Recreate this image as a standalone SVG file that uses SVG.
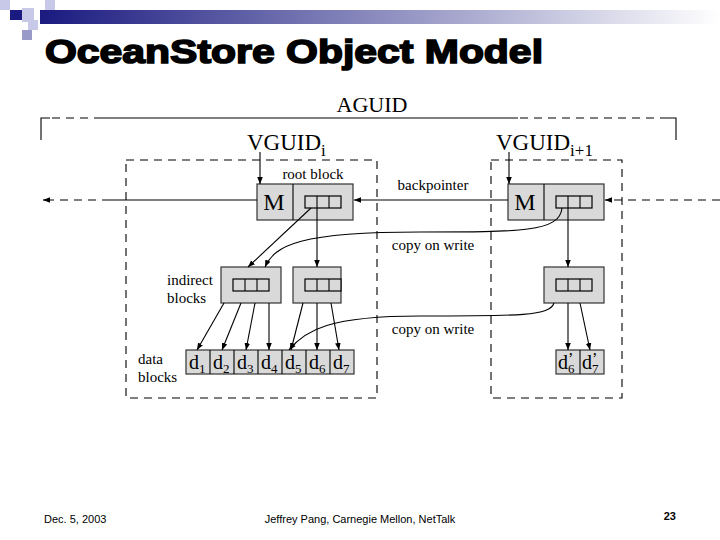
<svg xmlns="http://www.w3.org/2000/svg" width="720" height="540" viewBox="0 0 720 540">
<defs>
<linearGradient id="g" x1="0" x2="1"><stop offset="0" stop-color="#1a1a80"/><stop offset="1" stop-color="#ffffff"/></linearGradient>
<marker id="a" viewBox="0 0 10 10" refX="10" refY="5" markerWidth="7" markerHeight="7" orient="auto" markerUnits="userSpaceOnUse"><path d="M0,1 L10,5 L0,9 z" fill="#000"/></marker>
<style>
.t{font-family:"Liberation Serif",serif;fill:#000}
.blk{fill:#d9d9d9;stroke:#333;stroke-width:1.2}
.cell{fill:#d9d9d9;stroke:#000;stroke-width:1.2}
.ln{stroke:#000;stroke-width:1.1;fill:none}
.ds{stroke:#000;stroke-width:1.1;fill:none;stroke-dasharray:8,6}
</style>
</defs>
<rect width="720" height="540" fill="#fff"/>
<g id="header">
<rect x="40" y="10" width="680" height="14" fill="url(#g)"/>
<rect x="0" y="0" width="10" height="10" fill="#c8c8e8"/>
<rect x="10" y="10" width="12" height="10" fill="#1a1a80"/>
<rect x="22" y="8" width="12" height="14" fill="#c8c8e8"/>
<rect x="28" y="20" width="10" height="10" fill="#c8c8e8"/>
<rect x="22" y="30" width="10" height="10" fill="#9a9ac8"/>
<rect x="45" y="0" width="10" height="10" fill="#c8c8e8"/>
<text x="45" y="63" textLength="498" lengthAdjust="spacingAndGlyphs" style="font-family:'Liberation Sans',sans-serif;font-weight:900;font-size:33px;stroke:#000;stroke-width:1.6">OceanStore Object Model</text>
</g>
<g id="aguid">
<text class="t" x="372" y="112" font-size="22" text-anchor="middle">AGUID</text>
<path class="ln" d="M41,140 V118 H50 M95,118 H518 M666,118 H676 V140"/>
<path class="ds" d="M52,118 H95 M520,118 H666"/>
</g>
<g id="frames">
<rect class="ds" x="126" y="160" width="251" height="238"/>
<rect class="ds" x="491" y="160" width="131" height="238"/>
</g>
<g id="labels">
<text class="t" x="247" y="150" font-size="23">VGUID<tspan font-size="17" dy="6">i</tspan></text>
<text class="t" x="496" y="150" font-size="23">VGUID<tspan font-size="17" dy="6">i+1</tspan></text>
<text class="t" x="313" y="179" font-size="15" text-anchor="middle">root block</text>
<text class="t" x="433" y="190" font-size="15" text-anchor="middle">backpointer</text>
<text class="t" x="433" y="250" font-size="15" text-anchor="middle">copy on write</text>
<text class="t" x="433" y="334" font-size="15" text-anchor="middle">copy on write</text>
<text class="t" x="167" y="285" font-size="15">indirect</text>
<text class="t" x="167" y="303" font-size="15">blocks</text>
<text class="t" x="138" y="364" font-size="15">data</text>
<text class="t" x="138" y="382" font-size="15">blocks</text>
</g>
<g id="root-i">
<rect class="blk" x="257" y="184" width="96" height="36"/><line class="ln" x1="293" y1="184" x2="293" y2="220"/>
<text class="t" x="274" y="210" font-size="24" text-anchor="middle">M</text>
<rect class="cell" x="305" y="196" width="36" height="12"/><path class="ln" d="M317,196V208M329,196V208"/>
</g>
<g id="root-i1">
<rect class="blk" x="508" y="184" width="96" height="36"/><line class="ln" x1="544" y1="184" x2="544" y2="220"/>
<text class="t" x="525" y="210" font-size="24" text-anchor="middle">M</text>
<rect class="cell" x="556" y="196" width="36" height="12"/><path class="ln" d="M568,196V208M580,196V208"/>
</g>
<g id="ind-1">
<rect class="blk" x="221" y="267" width="60" height="36"/>
<rect class="cell" x="233" y="279" width="36" height="12"/><path class="ln" d="M245,279V291M257,279V291"/>
</g>
<g id="ind-2">
<rect class="blk" x="293" y="267" width="48" height="36"/>
<rect class="cell" x="305" y="279" width="36" height="12"/><path class="ln" d="M317,279V291M329,279V291"/>
</g>
<g id="ind-3">
<rect class="blk" x="544" y="267" width="60" height="36"/>
<rect class="cell" x="556" y="279" width="36" height="12"/><path class="ln" d="M568,279V291M580,279V291"/>
</g>
<g id="data-i">
<rect class="blk" x="186" y="350" width="168" height="24"/>
<path class="ln" d="M210,350V374M234,350V374M258,350V374M282,350V374M306,350V374M330,350V374"/>
<g class="t" font-size="20">
<text x="189" y="369">d<tspan font-size="13" dy="4">1</tspan></text>
<text x="213" y="369">d<tspan font-size="13" dy="4">2</tspan></text>
<text x="237" y="369">d<tspan font-size="13" dy="4">3</tspan></text>
<text x="261" y="369">d<tspan font-size="13" dy="4">4</tspan></text>
<text x="285" y="369">d<tspan font-size="13" dy="4">5</tspan></text>
<text x="309" y="369">d<tspan font-size="13" dy="4">6</tspan></text>
<text x="333" y="369">d<tspan font-size="13" dy="4">7</tspan></text>
</g>
</g>
<g id="data-i1">
<rect class="blk" x="556" y="350" width="48" height="24"/>
<path class="ln" d="M580,350V374"/>
<g class="t" font-size="20">
<text x="558" y="369">d<tspan font-size="13" dy="4">6</tspan></text>
<text x="568" y="364" font-size="16">’</text>
<text x="582" y="369">d<tspan font-size="13" dy="4">7</tspan></text>
<text x="592" y="364" font-size="16">’</text>
</g>
</g>
<g id="connectors">
<path class="ln" d="M260,152V184" marker-end="url(#a)"/>
<path class="ln" d="M509,152V184" marker-end="url(#a)"/>
<path class="ln" d="M257,200H110" />
<path class="ds" d="M110,200H50"/>
<path class="ln" d="M50,200H43" marker-end="url(#a)"/>
<path class="ln" d="M508,200H354" marker-end="url(#a)"/>
<path class="ds" d="M720,200H612"/>
<path class="ln" d="M612,200H605" marker-end="url(#a)"/>
<path class="ln" d="M311,208L248,267" marker-end="url(#a)"/>
<path class="ln" d="M317,208V267" marker-end="url(#a)"/>
<path class="ln" d="M562,208C560,232 520,232 420,232 C300,232 275,245 265,267" marker-end="url(#a)"/>
<path class="ln" d="M568,208V267" marker-end="url(#a)"/>
<path class="ln" d="M224,303L197,350" marker-end="url(#a)"/>
<path class="ln" d="M241,303L222,350" marker-end="url(#a)"/>
<path class="ln" d="M255,303L246,350" marker-end="url(#a)"/>
<path class="ln" d="M269,303V350" marker-end="url(#a)"/>
<path class="ln" d="M303,303L291,350" marker-end="url(#a)"/>
<path class="ln" d="M317,303V350" marker-end="url(#a)"/>
<path class="ln" d="M331,303L339,350" marker-end="url(#a)"/>
<path class="ln" d="M554,303C550,316 520,316 420,316 C330,316 305,330 289,350" marker-end="url(#a)"/>
<path class="ln" d="M568,303V350" marker-end="url(#a)"/>
<path class="ln" d="M580,303L590,350" marker-end="url(#a)"/>
</g>
<g id="footer" style="font-family:'Liberation Sans',sans-serif" font-size="11">
<text x="44" y="523">Dec. 5, 2003</text>
<text x="360" y="523" text-anchor="middle">Jeffrey Pang, Carnegie Mellon, NetTalk</text>
<text x="676" y="520" text-anchor="end" font-weight="bold">23</text>
</g>
</svg>
